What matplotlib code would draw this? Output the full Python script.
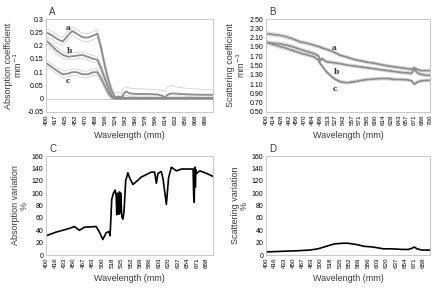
import numpy as np
import matplotlib
matplotlib.use('Agg')
import matplotlib.pyplot as plt

plt.rcParams['font.family'] = ['Liberation Sans Narrow', 'Liberation Sans', 'DejaVu Sans']

# ---- panel A: absorption coefficient ----
wl_A = [400, 410, 420, 430, 440, 447, 455, 465, 475, 485, 492, 498, 505, 512, 518, 524,
        530, 536, 540, 544, 550, 560, 580, 600, 610, 614, 618, 625, 640, 660, 680, 700]
abs_a = [0.25, 0.24, 0.225, 0.215, 0.24, 0.255, 0.245, 0.232, 0.23, 0.238, 0.245, 0.2, 0.13, 0.07, 0.03, 0.005,
         0.008, 0.005, 0.02, 0.027, 0.02, 0.018, 0.018, 0.016, 0.01, 0.005, 0.015, 0.02, 0.018, 0.016, 0.015, 0.015]
abs_a_hi = [0.265, 0.255, 0.24, 0.23, 0.255, 0.27, 0.26, 0.247, 0.245, 0.253, 0.26, 0.215, 0.145, 0.085, 0.045, 0.02,
            0.025, 0.02, 0.04, 0.045, 0.04, 0.038, 0.036, 0.035, 0.03, 0.028, 0.045, 0.05, 0.042, 0.038, 0.035, 0.033]
abs_a_lo = [0.235, 0.225, 0.21, 0.2, 0.225, 0.24, 0.23, 0.217, 0.215, 0.223, 0.23, 0.185, 0.115, 0.055, 0.015, 0.0,
            0.002, 0.0, 0.008, 0.012, 0.008, 0.006, 0.006, 0.005, 0.003, 0.0, 0.004, 0.006, 0.005, 0.005, 0.004, 0.004]
abs_b = [0.22, 0.2, 0.18, 0.165, 0.158, 0.16, 0.162, 0.165, 0.158, 0.15, 0.147, 0.12, 0.08, 0.04, 0.01, 0.002,
         0.003, 0.003, 0.003, 0.003, 0.003, 0.003, 0.003, 0.003, 0.003, 0.003, 0.003, 0.003, 0.003, 0.003, 0.003, 0.003]
abs_b_hi = [0.232, 0.212, 0.192, 0.177, 0.17, 0.172, 0.174, 0.177, 0.17, 0.162, 0.159, 0.132, 0.092, 0.052, 0.02, 0.01,
            0.01, 0.01, 0.012, 0.012, 0.01, 0.01, 0.01, 0.01, 0.01, 0.008, 0.01, 0.01, 0.01, 0.01, 0.01, 0.01]
abs_b_lo = [0.208, 0.188, 0.168, 0.153, 0.146, 0.148, 0.15, 0.153, 0.146, 0.138, 0.135, 0.108, 0.068, 0.028, 0.002, 0.0,
            0.0, 0.0, 0.0, 0.0, 0.0, 0.0, 0.0, 0.0, 0.0, 0.0, 0.0, 0.0, 0.0, 0.0, 0.0, 0.0]
abs_c = [0.135, 0.12, 0.105, 0.092, 0.095, 0.1, 0.1, 0.092, 0.092, 0.1, 0.1, 0.08, 0.05, 0.02, 0.005, 0.0,
         0.0, 0.0, 0.0, 0.0, 0.0, 0.0, 0.0, 0.0, 0.0, 0.0, 0.0, 0.0, 0.0, 0.0, 0.0, 0.0]
abs_c_hi = [0.147, 0.132, 0.117, 0.104, 0.107, 0.112, 0.112, 0.104, 0.104, 0.112, 0.112, 0.092, 0.062, 0.03, 0.012, 0.005,
            0.005, 0.012, 0.005, 0.004, 0.004, 0.004, 0.004, 0.004, 0.004, 0.004, 0.004, 0.004, 0.004, 0.008, 0.004, 0.004]
abs_c_lo = [0.123, 0.108, 0.093, 0.08, 0.083, 0.088, 0.088, 0.08, 0.08, 0.088, 0.088, 0.068, 0.038, 0.01, 0.0, -0.003,
            -0.003, -0.003, -0.003, -0.003, -0.003, -0.003, -0.003, -0.003, -0.003, -0.003, -0.003, -0.003, -0.003, -0.003, -0.003, -0.003]
ticks_A = [400, 417, 435, 452, 470, 488, 506, 524, 542, 560, 578, 596, 614, 632, 650, 668, 686]

# ---- panel B: scattering coefficient ----
wl_B = [400, 412, 425, 437, 450, 462, 475, 487, 496, 499, 502, 511, 524, 536, 548, 561, 574,
        586, 598, 610, 623, 635, 648, 660, 666, 671, 678, 684, 692, 700]
sca_a = [2.19, 2.17, 2.15, 2.12, 2.07, 2.01, 1.98, 1.94, 1.91, 1.9, 1.88, 1.85, 1.79, 1.72, 1.68, 1.63, 1.6,
         1.57, 1.55, 1.52, 1.49, 1.47, 1.45, 1.43, 1.42, 1.45, 1.41, 1.39, 1.39, 1.39]
sca_b = [1.99, 1.98, 1.97, 1.94, 1.9, 1.85, 1.8, 1.76, 1.71, 1.6, 1.65, 1.58, 1.56, 1.54, 1.51, 1.49, 1.47,
         1.45, 1.43, 1.41, 1.39, 1.37, 1.35, 1.34, 1.33, 1.42, 1.33, 1.31, 1.29, 1.29]
sca_c = [2.01, 1.96, 1.91, 1.87, 1.82, 1.77, 1.73, 1.69, 1.62, 1.54, 1.5, 1.36, 1.22, 1.15, 1.13, 1.15, 1.18,
         1.2, 1.21, 1.22, 1.22, 1.2, 1.2, 1.19, 1.17, 1.1, 1.15, 1.17, 1.18, 1.18]
sca_spread = [0.04, 0.04, 0.04, 0.04, 0.035, 0.035, 0.035, 0.035, 0.03, 0.03, 0.03, 0.03, 0.03, 0.03, 0.03, 0.03, 0.03,
              0.03, 0.03, 0.03, 0.03, 0.03, 0.03, 0.03, 0.03, 0.03, 0.03, 0.03, 0.03, 0.03]
ticks_B = [400, 414, 428, 442, 456, 470, 484, 499, 513, 527, 542, 557, 571, 585, 600, 614, 628, 643, 657, 671, 686, 700]

# ---- panel C: absorption variation ----
wl_C = [400, 418, 442, 451, 460, 469, 490, 496, 502, 508, 513, 515, 518, 521, 524, 526, 527, 528, 529, 530,
        531, 532, 533, 534, 536, 538, 540, 543, 547, 550, 556, 565, 571, 580, 589, 595, 598, 601, 607, 610,
        616, 620, 625, 634, 643, 664, 665, 666, 667, 668, 669, 670, 676, 688, 700]
abs_var = [31, 37, 43, 46, 40, 45, 46, 37, 25, 36, 38, 31, 90, 100, 105, 95, 65, 100, 70, 98,
           66, 102, 68, 100, 62, 58, 70, 120, 133, 125, 114, 121, 126, 130, 134, 134, 116, 132, 135, 123,
           82, 125, 142, 136, 139, 139, 95, 85, 142, 110, 138, 132, 136, 132, 127]
ticks_C = [400, 416, 433, 450, 467, 483, 500, 518, 535, 552, 569, 586, 603, 620, 637, 654, 671, 688]

# ---- panel D: scattering variation ----
wl_D = [400, 430, 460, 480, 495, 510, 525, 540, 550, 565, 580, 595, 615, 630, 650, 660, 667, 671, 676, 685, 700]
sca_var = [5, 6, 7, 8, 10, 14, 18, 19, 19, 17, 14, 13, 10, 10, 9, 9, 11, 13, 10, 8, 8]

fig = plt.figure(figsize=(4.4, 2.89), dpi=100)
axA = fig.add_axes([0.1045, 0.6125, 0.38, 0.3215])
axB = fig.add_axes([0.6045, 0.6125, 0.373, 0.3215])
axC = fig.add_axes([0.1045, 0.1176, 0.38, 0.3425])
axD = fig.add_axes([0.6045, 0.1176, 0.373, 0.3425])

grey = '#8c8c8c'
light = '#d2d2d2'
txt = '#3a3a3a'

for hi, lo in [(abs_a_hi, abs_a_lo), (abs_b_hi, abs_b_lo), (abs_c_hi, abs_c_lo)]:
    axA.plot(wl_A, hi, color=light, lw=0.6)
    axA.plot(wl_A, lo, color=light, lw=0.6)
axA.axhline(0, color='#c8c8c8', lw=0.6)
for y in [abs_a, abs_b, abs_c]:
    axA.plot(wl_A, y, color=grey, lw=1.3)
axA.set_ylim(-0.05, 0.3)
axA.set_yticks([-0.05, 0, 0.05, 0.1, 0.15, 0.2, 0.25, 0.3])
axA.set_yticklabels(['-0.05', '0', '0.05', '0.1', '0.15', '0.2', '0.25', '0.3'])
axA.set_xticks(ticks_A)
axA.set_xticklabels([str(t) for t in ticks_A])
axA.set_ylabel('Absorption coefficient\nmm$^{-1}$', fontsize=6.5, labelpad=2, linespacing=0.9, color=txt)
for t, x, y in [('a', 439, 0.266), ('b', 442, 0.18), ('c', 440, 0.066)]:
    axA.text(x, y, t, family='DejaVu Serif', fontsize=5.5, fontweight='bold', ha='center', va='center', color='#333333')

sd = np.array(sca_spread)
for y in [sca_a, sca_b, sca_c]:
    axB.plot(wl_B, np.array(y) + sd, color=light, lw=0.6)
    axB.plot(wl_B, np.array(y) - sd, color=light, lw=0.6)
for y in [sca_a, sca_b, sca_c]:
    axB.plot(wl_B, y, color=grey, lw=1.3)
axB.set_ylim(0.5, 2.5)
yb = [0.5, 0.7, 0.9, 1.1, 1.3, 1.5, 1.7, 1.9, 2.1, 2.3, 2.5]
axB.set_yticks(yb)
axB.set_yticklabels(['%.2f' % v for v in yb])
axB.set_xticks(ticks_B)
axB.set_xticklabels([str(t) for t in ticks_B])
axB.set_ylabel('Scattering coefficient\nmm$^{-1}$', fontsize=6.5, labelpad=2, linespacing=0.9, color=txt)
for t, x, y in [('a', 524, 1.88), ('b', 528, 1.37), ('c', 526, 0.99)]:
    axB.text(x, y, t, family='DejaVu Serif', fontsize=5.5, fontweight='bold', ha='center', va='center', color='#333333')

axC.plot(wl_C, abs_var, color='black', lw=1.2)
axC.set_xticks(ticks_C)
axC.set_xticklabels([str(t) for t in ticks_C])
axC.set_ylabel('Absorption variation\n%', fontsize=6.5, labelpad=2, linespacing=0.9, color=txt)

axD.plot(wl_D, sca_var, color='black', lw=1.2)
axD.set_xticks(ticks_C)
axD.set_xticklabels([str(t) for t in ticks_C])
axD.set_ylabel('Scattering variation\n%', fontsize=6.5, labelpad=2, linespacing=0.9, color=txt)

for ax in [axC, axD]:
    ax.set_ylim(0, 160)
    ax.set_yticks(range(0, 161, 20))

for ax, letter in zip([axA, axB, axC, axD], 'ABCD'):
    ax.set_xlim(400, 700)
    for s in ax.spines.values():
        s.set_color('#c8c8c8')
        s.set_linewidth(0.7)
    ax.tick_params(axis='x', labelsize=4.5, rotation=90, length=0, pad=2)
    ax.tick_params(axis='y', labelsize=5, length=0, pad=2)
    ax.set_xlabel('Wavelength (mm)', fontsize=6.5, labelpad=4, color=txt)
    ax.text(0.02, 1.02, letter, transform=ax.transAxes, fontsize=7, ha='left', va='bottom', color=txt)

fig.savefig('out.png', dpi=100)
